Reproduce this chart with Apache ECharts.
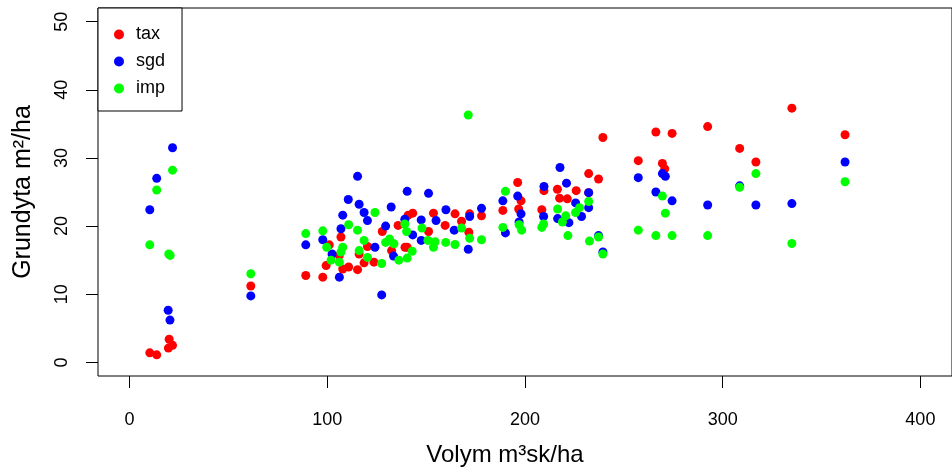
<!DOCTYPE html>
<html>
<head>
<meta charset="utf-8">
<script src="https://cdn.jsdelivr.net/npm/echarts@6/dist/echarts.min.js"></script>
<style>html,body{margin:0;padding:0;background:#fff}#c{width:952px;height:472px}</style>
</head>
<body>
<div id="c"></div>
<script>
var seriesNames = ['tax', 'sgd', 'imp'];
var seriesColors = ['#FF0000', '#0000FF', '#00FF00'];
var xTicks = [0, 100, 200, 300, 400];
var yTicks = [0, 10, 20, 30, 40, 50];

var taxData = [
[10.2,1.4],[13.7,1.1],[19.6,2.1],[20.0,3.4],[21.7,2.5],[61.3,11.2],
[89.1,12.75],[97.7,12.5],[99.4,14.2],[101,17.25],[106.1,15.7],[106.9,18.4],[107.8,13.7],[110.8,14.0],[115.3,13.6],[116.1,15.9],[118.6,14.6],[120.3,17.0],[123.6,14.7],[127.8,19.2],
[132.5,16.4],[135.8,20.1],[139.3,16.9],[140.4,16.9],[140.9,21.6],[143.2,21.9],[151.2,19.2],[153.7,21.9],[159.6,20.1],[164.6,21.8],[167.9,20.7],[171.6,19.1],[172,21.8],
[178,21.5],[188.8,22.3],[196.3,26.4],[196.8,22.5],[198,23.7],[208.5,22.4],[209.6,25.2],[216.4,25.4],
[217.5,24.1],[221.4,24.0],[225.9,25.2],[232.2,27.7],[232.2,24.9],[237.2,26.9],[239.4,33.0],
[257.3,29.6],[266.2,33.8],[269.5,29.2],[270.7,28.4],[274.4,33.6],[292.4,34.6],[308.6,31.4],[316.8,29.4],[335,37.3],[361.9,33.4]
];
var sgdData = [
[10.2,22.4],[13.7,27.0],[19.5,7.65],[20.4,6.2],[21.7,31.5],[61.3,9.75],
[89.1,17.25],[97.7,18.0],[102.4,15.9],[106.1,12.5],[106.9,19.6],[107.8,21.6],[110.6,23.9],[115.3,27.3],[116.1,23.2],[118.6,22.0],[120.3,20.8],[124.1,16.9],[127.5,9.9],[129.5,20.0],
[132.3,22.8],[133.5,15.6],[139.2,21.0],[140.4,25.1],[143.2,18.7],[147.5,20.9],[147.5,17.9],[151.2,24.8],[155,20.8],[160,22.4],[164.2,19.4],[171.3,16.6],[172,21.4],
[178,22.6],[188.8,23.7],[190.1,19.0],[196.3,24.4],[197,20.6],[198,21.8],[209.4,21.4],[209.6,25.8],[216.5,21.1],[217.7,28.6],
[221,26.3],[222.2,20.5],[225.6,23.4],[228.6,21.4],[232.2,24.9],[232.2,22.7],[237.2,18.6],[239.4,16.2],
[257.3,27.1],[266.2,25.0],[269.5,27.7],[271,27.3],[274.4,23.7],[292.4,23.1],[308.6,25.9],[316.8,23.1],[335,23.3],[361.9,29.4]
];
var impData = [
[10.2,17.25],[13.7,25.3],[19.8,15.9],[20.5,15.7],[21.7,28.2],[61.3,13.0],
[89.1,18.9],[97.7,19.3],[99.7,16.9],[101.9,15.0],[106.1,14.7],[106.9,16.2],[107.8,16.9],[110.8,20.2],[115.3,19.4],[116.1,16.4],[118.6,17.9],[120.3,15.4],[124.1,22.0],[127.5,14.5],
[129.5,17.6],[131.5,18.1],[133.7,17.4],[136.2,15.0],[139.2,20.3],[140.1,19.2],[140.4,15.3],[142.9,16.3],[147.9,19.7],[150.9,17.9],[153.7,16.9],[154.5,17.7],[159.9,17.6],[164.6,17.3],[167.9,19.7],[171.3,36.3],[172,18.2],
[178,18.0],[188.8,19.8],[190.1,25.1],[197,20.2],[198.3,19.4],[208.5,19.8],[209.4,20.3],[216.5,22.5],
[218.9,20.6],[220.6,21.5],[221.7,18.6],[225.6,22.0],[227.6,22.7],[232.2,23.6],[232.6,17.8],[237.2,18.4],[239.4,15.9],
[257.3,19.4],[266.2,18.6],[269.5,24.4],[271,21.9],[274.4,18.6],[292.4,18.6],[308.6,25.7],[316.8,27.7],[335,17.45],[361.9,26.5]
];
var allData = [taxData, sgdData, impData];

var FONT = 'Liberation Sans, Arial, sans-serif';
var chart = echarts.init(document.getElementById('c'), null, {renderer: 'canvas'});
chart.setOption({
  animation: false,
  backgroundColor: '#fff',
  grid: {left: 98, right: -10, top: 8, bottom: 94, show: true, borderColor: '#000', borderWidth: 1, backgroundColor: 'transparent'},
  legend: {
    orient: 'vertical', left: 98, top: 8,
    data: seriesNames,
    icon: 'circle', itemWidth: 10, itemHeight: 10, itemGap: 9,
    padding: [17.5, 17, 13.5, 16],
    borderColor: '#000', borderWidth: 1, borderRadius: 0, backgroundColor: '#fff',
    textStyle: {fontFamily: FONT, fontSize: 18, lineHeight: 18, color: '#000', padding: [0, 0, 0, 7]},
    itemStyle: {borderWidth: 0}
  },
  xAxis: {
    type: 'value', min: -16, max: 416,
    name: 'Volym m³sk/ha', nameLocation: 'middle', nameGap: 67,
    nameTextStyle: {fontFamily: FONT, fontSize: 24, color: '#000', padding: [0, 40, 0, 0]},
    splitLine: {show: false},
    axisLine: {show: false, onZero: false},
    axisTick: {show: true, inside: false, length: 12, customValues: xTicks, lineStyle: {color: '#000', width: 1}},
    axisLabel: {customValues: xTicks, margin: 35, fontFamily: FONT, fontSize: 18, color: '#000'}
  },
  yAxis: {
    type: 'value', min: -2, max: 52,
    name: 'Grundyta m²/ha', nameLocation: 'middle', nameGap: 62,
    nameTextStyle: {fontFamily: FONT, fontSize: 25, color: '#000'},
    splitLine: {show: false},
    axisLine: {show: false, onZero: false},
    axisTick: {show: true, inside: false, length: 12, customValues: yTicks, lineStyle: {color: '#000', width: 1}},
    axisLabel: {customValues: yTicks, margin: 27, rotate: 90, fontFamily: FONT, fontSize: 18, color: '#000'}
  },
  series: seriesNames.map(function (n, i) {
    return {
      name: n, type: 'scatter', data: allData[i],
      symbol: 'circle', symbolSize: 9,
      itemStyle: {color: seriesColors[i], opacity: 1},
      emphasis: {disabled: true}
    };
  })
});
</script>
</body>
</html>
